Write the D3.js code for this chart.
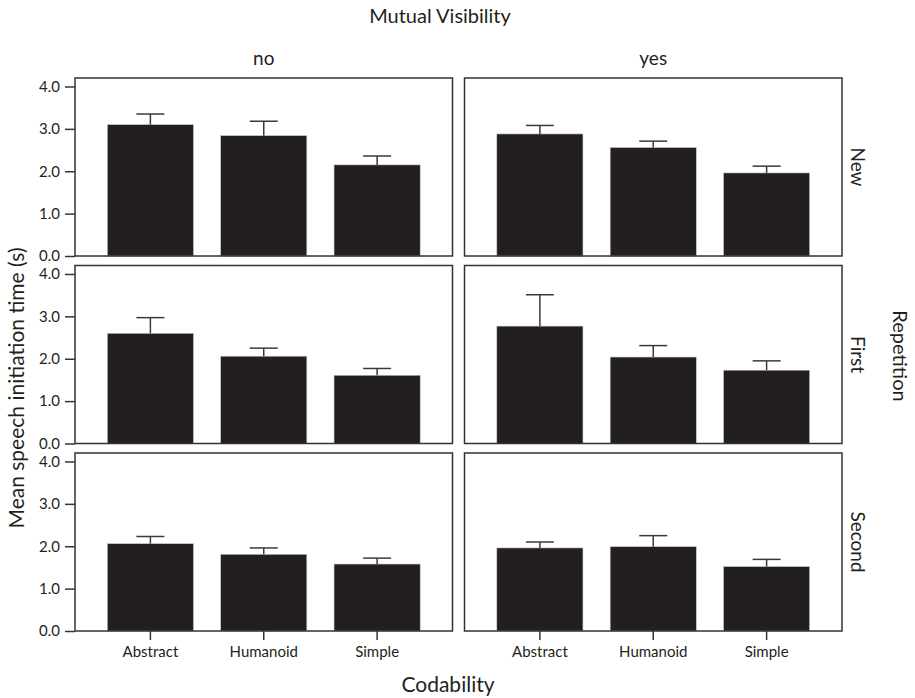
<!DOCTYPE html>
<html>
<head>
<meta charset="utf-8">
<script src="https://cdn.jsdelivr.net/npm/d3@7"></script>
<style>
  body { margin: 0; background: #fff; }
  svg text { font-family: Lato, "Noto Sans", sans-serif; fill: #231f20; }
</style>
</head>
<body>
<svg id="chart_svg" width="915" height="698"></svg>
<script>
// categories
var visibility = ["no", "yes"];
var repetition = ["New", "First", "Second"];
var codability = ["Abstract", "Humanoid", "Simple"];
var yTicks = [0, 1, 2, 3, 4];

// mean speech initiation time (s), one row per repetition
var meansNo = [
    [3.10, 2.84, 2.15],
    [2.60, 2.06, 1.61],
    [2.06, 1.81, 1.58]
];
var meansYes = [
    [2.88, 2.56, 1.96],
    [2.77, 2.04, 1.73],
    [1.96, 1.99, 1.52]
];
// error bar size (upper whisker only is visible)
var errNo = [
    [0.25, 0.34, 0.21],
    [0.37, 0.19, 0.16],
    [0.17, 0.15, 0.14]
];
var errYes = [
    [0.20, 0.15, 0.16],
    [0.74, 0.27, 0.22],
    [0.14, 0.26, 0.17]
];

function facetMain() {
    chartSvg = d3.select("#chart_svg");
    facet_margin = { top: 78, left: 75 };
    panel_width = 377.5;
    panel_height = 178;
    panel_gap_x = 12;
    panel_gap_y = 9.5;
    drawFacets();
    drawLabels();
}

function drawFacets() {
    var xScale = d3.scaleBand()
                    .domain(codability)
                    .range([0, panel_width])
                    .paddingInner(0.24)
                    .paddingOuter(0.285);

    var yScale = d3.scaleLinear()
                    .domain([0, 4.2])
                    .range([panel_height, 0]);

    var allMeans = [meansNo, meansYes];
    var allErr = [errNo, errYes];

    visibility.forEach(function(vis, c) {
        repetition.forEach(function(rep, r) {
            var px = facet_margin.left + c * (panel_width + panel_gap_x);
            var py = facet_margin.top + r * (panel_height + panel_gap_y);
            var g = chartSvg.append("g").attr("transform", `translate(${px}, ${py})`);

            var rows = codability.map(function(k, i) {
                return { cat: k, mean: allMeans[c][r][i], err: allErr[c][r][i] };
            });

            //Bars
            g.selectAll("rect.bar")
              .data(rows)
              .enter()
              .append("rect")
              .attr("class", "bar")
              .attr("x", d => xScale(d.cat))
              .attr("y", d => yScale(d.mean))
              .attr("width", xScale.bandwidth())
              .attr("height", d => panel_height - yScale(d.mean))
              .attr("fill", "#231f20")
              .attr("stroke", "#c8c8c8")
              .attr("stroke-width", 0.6);

            //Error bars
            var capHalf = 14;
            g.selectAll("line.whisker")
              .data(rows)
              .enter()
              .append("line")
              .attr("class", "whisker")
              .attr("x1", d => xScale(d.cat) + xScale.bandwidth() / 2)
              .attr("x2", d => xScale(d.cat) + xScale.bandwidth() / 2)
              .attr("y1", d => yScale(d.mean))
              .attr("y2", d => yScale(d.mean + d.err))
              .attr("stroke", "#3a3a3a")
              .attr("stroke-width", 1.5);

            g.selectAll("line.cap")
              .data(rows)
              .enter()
              .append("line")
              .attr("class", "cap")
              .attr("x1", d => xScale(d.cat) + xScale.bandwidth() / 2 - capHalf)
              .attr("x2", d => xScale(d.cat) + xScale.bandwidth() / 2 + capHalf)
              .attr("y1", d => yScale(d.mean + d.err))
              .attr("y2", d => yScale(d.mean + d.err))
              .attr("stroke", "#3a3a3a")
              .attr("stroke-width", 1.5);

            //Panel frame
            g.append("rect")
              .attr("width", panel_width)
              .attr("height", panel_height)
              .attr("fill", "none")
              .attr("stroke", "#333")
              .attr("stroke-width", 1.5);

            //Y axis on left column only
            if (c === 0) {
                var yAxis = g.append("g")
                    .call(d3.axisLeft(yScale).tickValues(yTicks).tickFormat(d3.format(".1f")).tickSize(10).tickPadding(5));
                yAxis.select(".domain").remove();
                yAxis.selectAll("line").attr("stroke", "#333").attr("stroke-width", 1.5);
                yAxis.selectAll("text")
                    .style("font-size", "15px")
                    .attr("fill", "#231f20");
            }

            //X axis on bottom row only
            if (r === repetition.length - 1) {
                var xAxis = g.append("g")
                    .attr("transform", `translate(0, ${panel_height})`)
                    .call(d3.axisBottom(xScale).tickSize(9).tickPadding(6));
                xAxis.select(".domain").remove();
                xAxis.selectAll("line").attr("stroke", "#333").attr("stroke-width", 1.5);
                xAxis.selectAll("text")
                    .style("font-size", "15px")
                    .attr("fill", "#231f20");
            }

            //Column header
            if (r === 0) {
                g.append("text")
                  .attr("x", panel_width / 2)
                  .attr("y", -13)
                  .attr("text-anchor", "middle")
                  .style("font-size", "19px")
                  .text(vis);
            }

            //Row header on the right
            if (c === visibility.length - 1) {
                g.append("text")
                  .attr("transform", `translate(${panel_width + 9}, ${panel_height / 2}) rotate(90)`)
                  .attr("text-anchor", "middle")
                  .style("font-size", "19px")
                  .text(rep);
            }
        });
    });
}

function drawLabels() {
    chartSvg.append("text")
      .attr("x", 440)
      .attr("y", 23)
      .attr("text-anchor", "middle")
      .style("font-size", "20px")
      .text("Mutual Visibility");

    chartSvg.append("text")
      .attr("transform", "translate(893, 356) rotate(90)")
      .attr("text-anchor", "middle")
      .style("font-size", "20px")
      .text("Repetition");

    chartSvg.append("text")
      .attr("x", 448)
      .attr("y", 692)
      .attr("text-anchor", "middle")
      .style("font-size", "21px")
      .text("Codability");

    chartSvg.append("text")
      .attr("transform", "translate(24, 388) rotate(-90)")
      .attr("text-anchor", "middle")
      .style("font-size", "21px")
      .text("Mean speech initiation time (s)");
}

facetMain();
</script>
</body>
</html>
